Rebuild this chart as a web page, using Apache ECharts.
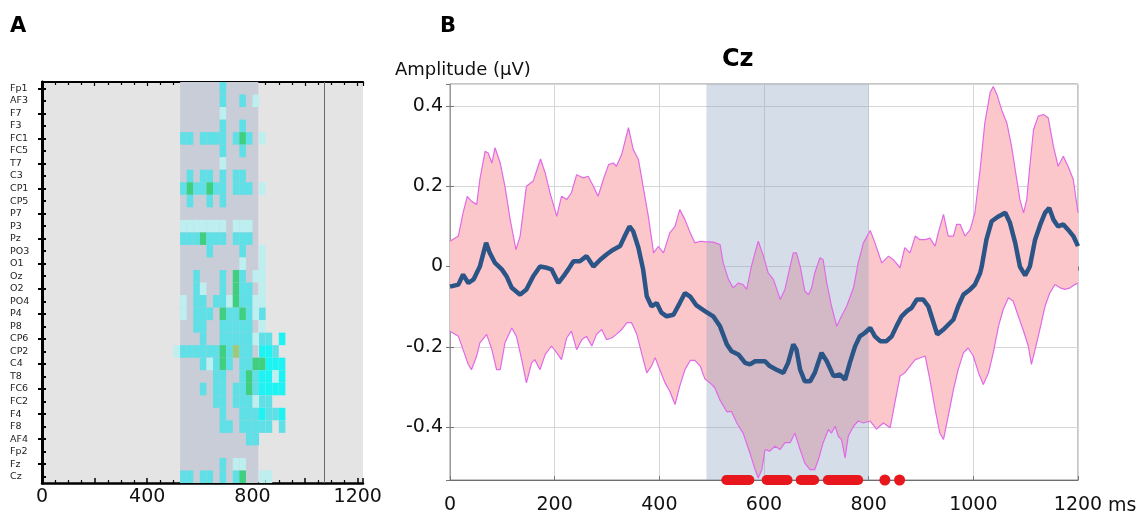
<!DOCTYPE html>
<html>
<head>
<meta charset="utf-8">
<script src="https://cdn.jsdelivr.net/npm/echarts@6/dist/echarts.min.js"></script>
<style>
  html, body { margin: 0; padding: 0; background: #fff; }
  #main { width: 1139px; height: 516px; }
</style>
</head>
<body>
<div id="main"></div>
<script>
// ---- panel A: electrodes x time bins (25 ms), significance level per cell ----
const electrodes = ["Fp1", "AF3", "F7", "F3", "FC1", "FC5", "T7", "C3", "CP1", "CP5",
  "P7", "P3", "Pz", "PO3", "O1", "Oz", "O2", "PO4", "P4", "P8", "CP6", "CP2", "C4",
  "T8", "FC6", "FC2", "F4", "F8", "AF4", "Fp2", "Fz", "Cz"];
const binStartsA = [500, 525, 550, 575, 600, 625, 650, 675, 700, 725, 750, 775, 800, 825, 850, 875, 900];
const binWidthA = 25;
const heatLevels = [
  [0,0,0,0,0,0,0,2,0,0,0,0,0,0,0,0,0],
  [0,0,0,0,0,0,0,2,0,0,2,0,1,0,0,0,0],
  [0,0,0,0,0,0,0,1,0,0,0,0,0,0,0,0,0],
  [0,0,0,0,0,0,0,2,0,0,2,0,0,0,0,0,0],
  [0,2,2,0,2,2,2,2,0,2,4,2,0,1,0,0,0],
  [0,0,0,0,0,0,0,2,0,0,2,0,0,0,0,0,0],
  [0,0,0,0,0,0,0,1,0,0,0,0,0,0,0,0,0],
  [0,0,2,0,2,2,0,2,0,2,2,0,0,0,0,0,0],
  [0,2,4,2,2,4,2,2,0,2,2,2,0,1,0,0,0],
  [0,0,2,0,0,2,0,2,0,0,0,0,0,0,0,0,0],
  [0,0,0,0,0,0,0,0,0,0,0,0,0,0,0,0,0],
  [0,1,1,1,1,1,1,1,0,1,1,1,0,0,0,0,0],
  [0,2,2,2,4,2,2,2,0,2,2,2,0,0,0,0,0],
  [0,0,0,0,0,2,0,0,0,0,2,0,0,1,0,0,0],
  [0,0,0,0,0,0,0,0,0,0,1,0,0,1,0,0,0],
  [0,0,0,2,0,0,0,2,0,4,2,0,1,1,0,0,0],
  [0,0,0,2,1,0,0,2,0,4,2,2,0,1,0,0,0],
  [0,1,0,2,2,0,2,2,1,4,2,2,1,1,0,0,0],
  [0,1,0,2,2,2,0,4,2,2,4,2,1,2,0,0,0],
  [0,0,0,2,2,0,0,2,2,2,2,2,0,1,0,0,0],
  [0,0,0,0,2,0,0,2,2,2,2,2,1,2,2,0,3],
  [1,2,2,2,2,2,2,4,2,5,2,2,0,3,3,2,0],
  [0,0,0,0,2,1,2,4,2,0,2,2,4,4,3,3,3],
  [0,0,0,0,0,0,2,2,0,0,2,4,2,3,3,1,3],
  [0,0,0,0,2,0,2,2,0,2,2,4,2,3,3,3,3],
  [0,0,0,0,0,0,2,2,0,2,2,2,1,2,2,0,0],
  [0,0,0,0,0,0,0,2,0,0,2,2,2,3,2,2,3],
  [0,0,0,0,0,0,0,2,2,0,2,2,2,2,2,0,2],
  [0,0,0,0,0,0,0,0,0,0,0,2,2,0,0,0,0],
  [0,0,0,0,0,0,0,0,0,0,0,0,0,0,0,0,0],
  [0,0,0,0,0,0,0,2,0,1,1,0,0,0,0,0,0],
  [0,2,2,0,2,2,0,2,0,2,4,0,0,1,1,0,0]
];
const windowA = [525, 822];
const markerA = 1072;

// ---- panel B: Cz amplitude (uV) vs time (ms) ----
const windowB = [490, 800];
const meanB = [[0,-0.05],[16,-0.045],[25,-0.02],[35,-0.041],[45,-0.032],[57,0.0],[69,0.059],[76,0.034],[86,0.009],[99,-0.007],[108,-0.024],[118,-0.053],[134,-0.07],[146,-0.057],[159,-0.024],[172,0.0],[185,-0.003],[194,-0.007],[207,-0.041],[217,-0.024],[226,-0.007],[236,0.013],[248,0.013],[261,0.026],[274,0.0],[287,0.017],[299,0.03],[312,0.042],[325,0.051],[334,0.076],[343,0.1],[350,0.088],[360,0.047],[369,-0.007],[376,-0.074],[385,-0.099],[395,-0.091],[404,-0.115],[414,-0.124],[427,-0.12],[439,-0.091],[449,-0.066],[459,-0.075],[471,-0.097],[487,-0.111],[503,-0.124],[516,-0.149],[529,-0.194],[538,-0.211],[551,-0.219],[564,-0.24],[573,-0.244],[583,-0.236],[592,-0.236],[602,-0.236],[611,-0.248],[624,-0.257],[637,-0.265],[646,-0.24],[656,-0.194],[662,-0.207],[669,-0.257],[678,-0.286],[688,-0.286],[697,-0.265],[710,-0.215],[720,-0.236],[733,-0.273],[745,-0.269],[755,-0.282],[764,-0.24],[774,-0.199],[783,-0.174],[793,-0.165],[803,-0.153],[812,-0.174],[822,-0.186],[834,-0.186],[844,-0.174],[853,-0.149],[863,-0.124],[873,-0.111],[882,-0.103],[892,-0.082],[904,-0.082],[914,-0.099],[924,-0.14],[931,-0.169],[943,-0.157],[952,-0.145],[962,-0.132],[971,-0.099],[981,-0.07],[994,-0.057],[1003,-0.045],[1013,-0.016],[1016,0],[1025,0.067],[1035,0.113],[1048,0.125],[1061,0.134],[1070,0.109],[1080,0.059],[1089,0],[1099,-0.022],[1108,0],[1118,0.067],[1128,0.105],[1137,0.134],[1145,0.146],[1153,0.117],[1162,0.1],[1172,0.105],[1181,0.092],[1191,0.076],[1200,0.051]];
const upperB = [[0,0.063],[16,0.076],[25,0.134],[33,0.175],[41,0.163],[51,0.155],[57,0.217],[67,0.287],[73,0.283],[80,0.258],[86,0.296],[96,0.258],[105,0.2],[115,0.117],[126,0.042],[134,0.076],[146,0.2],[159,0.213],[173,0.268],[182,0.233],[191,0.184],[204,0.125],[213,0.175],[223,0.167],[232,0.184],[242,0.229],[248,0.225],[255,0.221],[264,0.225],[274,0.2],[283,0.175],[293,0.217],[303,0.254],[312,0.258],[318,0.25],[328,0.279],[341,0.346],[350,0.292],[360,0.267],[369,0.2],[379,0.125],[389,0.034],[398,0.05],[408,0.034],[420,0.084],[430,0.1],[439,0.142],[449,0.117],[459,0.084],[468,0.059],[478,0.063],[487,0.062],[503,0.061],[516,0.055],[522,0.009],[532,-0.032],[541,-0.053],[551,-0.041],[560,-0.045],[567,-0.057],[576,0.001],[589,0.063],[599,0.026],[608,-0.016],[618,-0.032],[631,-0.082],[640,-0.057],[650,0.001],[656,0.034],[662,0.034],[669,0.001],[678,-0.061],[685,-0.07],[691,-0.053],[697,-0.016],[707,0.022],[713,0.017],[720,-0.041],[729,-0.099],[739,-0.149],[748,-0.124],[758,-0.099],[771,-0.053],[780,0.009],[790,0.059],[803,0.09],[812,0.059],[825,0.009],[838,0.026],[847,0.017],[860,-0.003],[869,0.047],[879,0.034],[889,0.076],[898,0.067],[908,0.067],[917,0.071],[927,0.051],[933,0.084],[943,0.13],[952,0.076],[962,0.076],[968,0.105],[975,0.105],[984,0.076],[994,0.092],[1003,0.134],[1013,0.242],[1022,0.358],[1032,0.433],[1038,0.449],[1045,0.429],[1054,0.391],[1064,0.358],[1073,0.3],[1083,0.217],[1089,0.167],[1096,0.134],[1102,0.167],[1108,0.25],[1115,0.341],[1124,0.375],[1134,0.379],[1143,0.371],[1153,0.3],[1162,0.25],[1172,0.275],[1181,0.25],[1191,0.217],[1200,0.134]];
const lowerB = [[0,-0.161],[16,-0.174],[25,-0.207],[35,-0.244],[41,-0.257],[51,-0.223],[57,-0.19],[70,-0.169],[80,-0.207],[89,-0.257],[96,-0.257],[105,-0.19],[118,-0.153],[127,-0.174],[137,-0.232],[146,-0.29],[156,-0.24],[162,-0.232],[172,-0.257],[182,-0.219],[194,-0.198],[204,-0.215],[213,-0.232],[223,-0.178],[232,-0.161],[242,-0.207],[252,-0.182],[261,-0.174],[271,-0.198],[280,-0.169],[290,-0.157],[299,-0.182],[309,-0.178],[318,-0.169],[328,-0.157],[338,-0.14],[347,-0.14],[357,-0.169],[366,-0.215],[376,-0.265],[385,-0.248],[392,-0.227],[401,-0.257],[411,-0.29],[420,-0.311],[430,-0.344],[439,-0.298],[449,-0.257],[459,-0.234],[468,-0.234],[478,-0.248],[487,-0.28],[497,-0.29],[506,-0.302],[516,-0.333],[529,-0.362],[538,-0.361],[548,-0.39],[560,-0.415],[573,-0.464],[583,-0.506],[589,-0.527],[596,-0.506],[602,-0.456],[611,-0.46],[621,-0.448],[631,-0.456],[640,-0.439],[650,-0.439],[659,-0.415],[669,-0.456],[678,-0.49],[688,-0.506],[697,-0.506],[704,-0.481],[713,-0.439],[723,-0.406],[729,-0.415],[736,-0.398],[742,-0.423],[748,-0.431],[755,-0.477],[761,-0.423],[771,-0.398],[780,-0.385],[790,-0.39],[803,-0.385],[815,-0.405],[828,-0.39],[841,-0.402],[850,-0.34],[860,-0.273],[869,-0.265],[879,-0.248],[889,-0.232],[898,-0.228],[908,-0.223],[917,-0.282],[927,-0.356],[936,-0.415],[943,-0.431],[952,-0.373],[962,-0.307],[971,-0.257],[981,-0.215],[990,-0.203],[1000,-0.223],[1010,-0.265],[1019,-0.294],[1029,-0.265],[1038,-0.215],[1048,-0.149],[1057,-0.107],[1067,-0.078],[1076,-0.086],[1086,-0.124],[1095,-0.157],[1105,-0.198],[1111,-0.244],[1118,-0.207],[1127,-0.157],[1137,-0.099],[1146,-0.066],[1156,-0.045],[1166,-0.053],[1175,-0.057],[1185,-0.053],[1194,-0.045],[1200,-0.041]];
// significant time ranges (ms) and isolated significant samples
const sigSegments = [[528, 572], [605, 645], [670, 696], [722, 780]];
const sigPoints = [831, 859];
const yRangeB = [-0.532, 0.455];

const FONT = "DejaVu Sans";
const levelColors = ["rgba(0,0,0,0)", "#bdeff1", "#5fdfe6", "#1df3f3", "#3fcf80", "#9cc97a"];

let heatData = [];
heatLevels.forEach((row, r) => {
  row.forEach((lv, b) => {
    if (lv > 0) heatData.push([binStartsA[b], r, lv]);
  });
});

// band between upper and lower bound as one polygon
const bandRender = (params, api) => {
  let pts = [];
  upperB.forEach(p => pts.push(api.coord(p)));
  lowerB.slice().reverse().forEach(p => pts.push(api.coord(p)));
  return { type: "polygon", shape: { points: pts }, style: { fill: "#fcc7ca" } };
};

const windowRender = (win, color) => (params, api) => {
  const cs = params.coordSys;
  const x0 = api.coord([win[0], 0])[0];
  const x1 = api.coord([win[1], 0])[0];
  return { type: "rect", shape: { x: x0, y: cs.y, width: x1 - x0, height: cs.height }, style: { fill: color } };
};

const heatRender = (params, api) => {
  const p = api.coord([api.value(0), api.value(1)]);
  const s = api.size([binWidthA, 1]);
  return {
    type: "rect",
    shape: { x: p[0], y: p[1] - s[1] / 2, width: s[0], height: s[1] },
    style: { fill: levelColors[api.value(2)] }
  };
};

let series = [
  {
    type: "custom", xAxisIndex: 0, yAxisIndex: 0, data: [[0, 0]], z: 1, silent: true,
    renderItem: windowRender(windowA, "#c9cdd7"),
    markLine: {
      symbol: "none", silent: true, label: { show: false },
      lineStyle: { color: "#6a6a6a", width: 1, type: "solid" },
      data: [{ xAxis: markerA }]
    }
  },
  {
    type: "custom", xAxisIndex: 0, yAxisIndex: 0, data: heatData, z: 2, silent: true,
    encode: { x: 0, y: 1 }, renderItem: heatRender
  },
  { type: "custom", xAxisIndex: 2, yAxisIndex: 2, data: [[0, 0]], z: 1, silent: true, renderItem: bandRender },
  { type: "custom", xAxisIndex: 2, yAxisIndex: 2, data: [[0, 0]], z: 2, silent: true,
    renderItem: windowRender(windowB, "rgba(141,163,193,0.37)") },
  { type: "line", xAxisIndex: 2, yAxisIndex: 2, data: upperB, showSymbol: false, z: 3,
    lineStyle: { color: "#e06ae6", width: 1.2 } },
  { type: "line", xAxisIndex: 2, yAxisIndex: 2, data: lowerB, showSymbol: false, z: 3,
    lineStyle: { color: "#e06ae6", width: 1.2 } },
  { type: "line", xAxisIndex: 2, yAxisIndex: 2, data: meanB, showSymbol: false, z: 4,
    lineStyle: { color: "#2b5487", width: 4.5 } }
];

sigSegments.forEach(seg => {
  series.push({
    type: "line", xAxisIndex: 2, yAxisIndex: 2, showSymbol: false, clip: false, z: 5,
    data: [[seg[0], yRangeB[0]], [seg[1], yRangeB[0]]],
    lineStyle: { color: "#e8161d", width: 10, cap: "round" }
  });
});
series.push({
  type: "scatter", xAxisIndex: 2, yAxisIndex: 2, clip: false, z: 5, symbolSize: 11,
  itemStyle: { color: "#e8161d", opacity: 1 },
  data: sigPoints.map(t => [t, yRangeB[0]])
});

const chart = echarts.init(document.getElementById("main"));
chart.setOption({
  animation: false,
  backgroundColor: "#fff",
  textStyle: { fontFamily: FONT },
  title: [
    { text: "A", left: 10, top: 16, padding: 0, textStyle: { fontSize: 21, fontWeight: "bold", color: "#000", fontFamily: FONT } },
    { text: "B", left: 440, top: 16, padding: 0, textStyle: { fontSize: 21, fontWeight: "bold", color: "#000", fontFamily: FONT } },
    { text: "Amplitude (μV)", left: 395, top: 61, padding: 0, textStyle: { fontSize: 18, fontWeight: "normal", color: "#111", fontFamily: FONT } },
    { text: "Cz", left: 722, top: 48, padding: 0, textStyle: { fontSize: 24, fontWeight: "bold", color: "#000", fontFamily: FONT } }
  ],
  grid: [
    { left: 42, right: 776, top: 82, bottom: 33, show: true, backgroundColor: "#e4e4e4", borderWidth: 0, outerBoundsMode: "none" },
    { left: 450, right: 61, top: 84, bottom: 36, show: true, backgroundColor: "#fff", borderColor: "#8f8f8f", borderWidth: 1, outerBoundsMode: "none" }
  ],
  xAxis: [
    {
      gridIndex: 0, type: "value", min: 0, max: 1220, interval: 200, position: "bottom",
      axisLine: { show: true, onZero: false, lineStyle: { color: "#000", width: 2.5 } },
      axisTick: { show: true, inside: true, length: 5, lineStyle: { color: "#000", width: 1.5 } },
      minorTick: { show: true, splitNumber: 4, length: 3, lineStyle: { color: "#000", width: 1.2 } },
      splitLine: { show: false },
      axisLabel: { margin: 5, fontSize: 19, color: "#111", fontFamily: FONT,
        formatter: v => (v % 400 === 0 ? String(v) : "") }
    },
    {
      gridIndex: 0, type: "value", min: 0, max: 1220, interval: 200, position: "top",
      axisLine: { show: true, onZero: false, lineStyle: { color: "#000", width: 2 } },
      axisTick: { show: true, inside: true, length: 4, lineStyle: { color: "#000", width: 1.2 } },
      minorTick: { show: true, splitNumber: 4, length: 3, lineStyle: { color: "#000", width: 1.2 } },
      splitLine: { show: false }, axisLabel: { show: false }
    },
    {
      gridIndex: 1, type: "value", min: 0, max: 1200, interval: 200, position: "bottom",
      name: "ms", nameLocation: "end", nameGap: 21,
      nameTextStyle: { fontSize: 19, color: "#111", fontFamily: FONT, verticalAlign: "top", padding: [17, 0, 0, 0] },
      axisLine: { show: true, onZero: false, lineStyle: { color: "#6e6e6e", width: 1.2 } },
      axisTick: { show: true, inside: true, length: 4, lineStyle: { color: "#777" } },
      splitLine: { show: true, lineStyle: { color: "#d6d6d6", width: 1 } },
      axisLabel: { margin: 16, fontSize: 19, color: "#111", fontFamily: FONT, formatter: v => String(v) }
    },
    {
      gridIndex: 1, type: "value", min: 0, max: 1200, interval: 200, position: "top",
      axisLine: { show: false },
      axisTick: { show: true, inside: true, length: 4, lineStyle: { color: "#777" } },
      splitLine: { show: false }, axisLabel: { show: false }
    }
  ],
  yAxis: [
    {
      gridIndex: 0, type: "category", data: electrodes, inverse: true, position: "left",
      axisLine: { show: true, lineStyle: { color: "#000", width: 3 } },
      axisTick: { show: true, inside: true, alignWithLabel: true, length: 4, lineStyle: { color: "#000", width: 2 } },
      splitLine: { show: false },
      axisLabel: { interval: 0, align: "left", margin: 32, fontSize: 9.5, color: "#222", fontFamily: FONT }
    },
    {
      gridIndex: 0, type: "category", data: electrodes, inverse: true, position: "right",
      axisLine: { show: true, lineStyle: { color: "#000", width: 2.5 } },
      axisTick: { show: true, inside: true, alignWithLabel: true, length: 4, lineStyle: { color: "#000", width: 2 } },
      splitLine: { show: false }, axisLabel: { show: false }
    },
    {
      gridIndex: 1, type: "value", min: yRangeB[0], max: yRangeB[1], splitNumber: 5,
      axisLine: { show: true, onZero: false, lineStyle: { color: "#9a9a9a", width: 1 } },
      axisTick: { show: true, inside: true, length: 4, lineStyle: { color: "#777" } },
      splitLine: { show: true, lineStyle: { color: "#d6d6d6", width: 1 } },
      axisLabel: { margin: 7, fontSize: 19, color: "#111", fontFamily: FONT, showMinLabel: false, showMaxLabel: false }
    },
    {
      gridIndex: 1, type: "value", min: yRangeB[0], max: yRangeB[1], splitNumber: 5, position: "right",
      axisLine: { show: false },
      axisTick: { show: true, inside: true, length: 4, lineStyle: { color: "#777" } },
      splitLine: { show: false }, axisLabel: { show: false }
    }
  ],
  series: series
});
</script>
</body>
</html>
